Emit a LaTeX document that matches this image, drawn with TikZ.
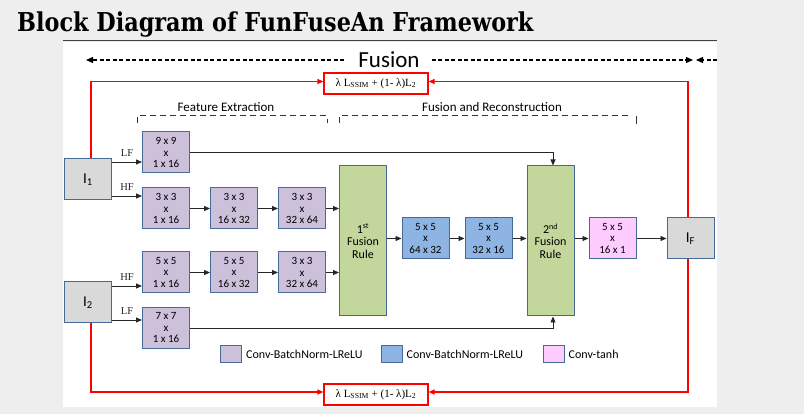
\documentclass[tikz,border=0pt]{standalone}
\usepackage{fontspec}
\usepackage{tikz}
\usetikzlibrary{arrows.meta, positioning, calc}
\newfontfamily\carlito{Carlito}
\newfontfamily\timesf{Liberation Serif}
\newfontfamily\titlefont[FakeStretch=0.86]{DejaVu Serif}
\definecolor{ffpurple}{RGB}{204,192,218}
\definecolor{ffblue}{RGB}{141,180,226}
\definecolor{ffgreen}{RGB}{195,214,155}
\definecolor{ffpink}{RGB}{255,204,255}
\definecolor{ffgray}{RGB}{217,217,217}
\definecolor{ffedge}{RGB}{70,105,150}
\definecolor{ffred}{RGB}{255,0,0}
\definecolor{ffback}{RGB}{238,238,238}
\tikzset{
  %% ---- boxes ----
  convbox/.style  = {rectangle, draw=ffedge, line width=1pt, fill=#1,
                     minimum width=47pt, minimum height=41pt, inner sep=0pt,
                     align=center, font=\carlito\fontsize{11}{11.5}\selectfont},
  convbox/.default = ffpurple,
  rulebox/.style  = {rectangle, draw=ffedge, line width=1pt, fill=ffgreen,
                     minimum width=47pt, minimum height=150pt, inner sep=0pt,
                     align=center, font=\carlito\fontsize{12}{12.5}\selectfont},
  imgbox/.style   = {rectangle, draw=ffedge, line width=1pt, fill=ffgray,
                     minimum width=47pt, minimum height=41pt,
                     font=\carlito\fontsize{15}{15}\selectfont},
  lossbox/.style  = {rectangle, draw=ffred, line width=1.2pt, fill=white,
                     minimum width=104pt, minimum height=21pt, inner sep=0pt,
                     font=\timesf\fontsize{11}{12}\selectfont},
  swatch/.style   = {rectangle, draw=ffedge, line width=1pt, fill=#1,
                     minimum width=21pt, minimum height=17pt, inner sep=0pt},
  legtext/.style  = {font=\carlito\fontsize{12}{12}\selectfont, inner sep=2pt},
  lbl/.style      = {above=5pt, inner sep=0pt, font=\timesf\fontsize{10.5}{11}\selectfont},
  %% ---- arrows ----
  arrow/.style    = {-{Triangle[length=6pt,width=5pt]}, line width=0.8pt, color=black!85},
  redarrow/.style = {-{Triangle[length=6pt,width=5pt]}, line width=1.2pt, color=ffred},
  fusearrow/.style= {-{Triangle[length=7pt,width=6pt]}, line width=1.2pt,
                     dash pattern=on 4pt off 2.5pt},
  bracket/.style  = {line width=1pt, color=black!80, dash pattern=on 6pt off 4pt},
}
\begin{document}
\begin{tikzpicture}[x=1pt, y=-1pt]
\fill[ffback] (0,0) rectangle (804,414);
\fill[white] (63,42) rectangle (717,407);
\draw[black!75, line width=1pt] (63,41) -- (717,41);
\node[anchor=base west, inner sep=0pt,
      font=\titlefont\bfseries\fontsize{26}{26}\selectfont] (title) at (17,32)
      {Block Diagram of FunFuseAn Framework};

%% fusion span
\node[inner sep=0pt, font=\carlito\fontsize{23}{23}\selectfont] (fus) at (389,60) {Fusion};
\coordinate (fusL) at (86,60);
\coordinate (fusR) at (693,60);
\coordinate (nxtR) at (717,60);
\coordinate (nxtL) at (696,60);
\draw[fusearrow] ([xshift=-14pt]fus.west) -- (fusL);
\draw[fusearrow] ([xshift=12pt]fus.east) -- (fusR);
\draw[fusearrow] (nxtR) -- (nxtL);

%% loss
\node[lossbox] (losst) at (376,83.5) {λ L\textsubscript{SSIM} + (1- λ)L\textsubscript{2}};
\node[lossbox] (lossb) at (376,394.5) {λ L\textsubscript{SSIM} + (1- λ)L\textsubscript{2}};

%% stage brackets
\node[font=\carlito\fontsize{13}{13}\selectfont] (fe) at (226,107) {Feature Extraction};
\node[font=\carlito\fontsize{13}{13}\selectfont] (fr) at (492,107) {Fusion and Reconstruction};
\draw[bracket] (137,123) -- (137,116) -- (327,116) -- (327,123);
\draw[bracket] (339,123) -- (339,116) -- (632,116);
\draw[line width=1pt, black!80] (636,116) -- (636,124);

%% inputs and feature extraction
\node[imgbox] (i1) at (88,179.5) {I\textsubscript{1}};
\node[imgbox] (i2) at (88,302.5) {I\textsubscript{2}};
\node[convbox] (lf1) at (166,152.5) {9 x 9\\x\\1 x 16};
\node[convbox] (hf1a) at (166,208.5) {3 x 3\\x\\1 x 16};
\node[convbox, right=20pt of hf1a] (hf1b) {3 x 3\\x\\16 x 32};
\node[convbox, right=20pt of hf1b] (hf1c) {3 x 3\\x\\32 x 64};
\node[convbox] (hf2a) at (166,272.5) {5 x 5\\x\\1 x 16};
\node[convbox, right=20pt of hf2a] (hf2b) {5 x 5\\x\\16 x 32};
\node[convbox, right=20pt of hf2b] (hf2c) {3 x 3\\x\\32 x 64};
\node[convbox] (lf2) at (166,328) {7 x 7\\x\\1 x 16};

%% fusion and reconstruction
\node[rulebox] (fr1) at (363,241) {1\textsuperscript{st}\\Fusion\\Rule};
\node[convbox=ffblue] (bl1) at (425.5,238.5) {5 x 5\\x\\64 x 32};
\node[convbox=ffblue, right=15pt of bl1] (bl2) {5 x 5\\x\\32 x 16};
\node[rulebox] (fr2) at (550.5,241) {2\textsuperscript{nd}\\Fusion\\Rule};
\node[convbox=ffpink] (tanh) at (612.5,238.5) {5 x 5\\x\\16 x 1};
\node[imgbox] (iF) at (690.5,238.5) {I\textsubscript{F}};

%% legend
\node[swatch=ffpurple] (sw1) at (231,354) {};
\node[legtext, right=2pt of sw1] (lg1) {Conv-BatchNorm-LReLU};
\node[swatch=ffblue] (sw2) at (391.5,354) {};
\node[legtext, right=2pt of sw2] (lg2) {Conv-BatchNorm-LReLU};
\node[swatch=ffpink] (sw3) at (553.5,354) {};
\node[legtext, right=2pt of sw3] (lg3) {Conv-tanh};

%% connectors
\coordinate (lf1in) at ([yshift=-9.5pt]lf1.west);
\coordinate (hf1in) at ([yshift=12.5pt]hf1a.west);
\coordinate (hf2in) at ([yshift=-13.5pt]hf2a.west);
\coordinate (lf2in) at ([yshift=8pt]lf2.west);
\draw[arrow] (i1.east |- lf1in) -- node[lbl] (lflab1) {LF} (lf1in);
\draw[arrow] (i1.east |- hf1in) -- node[lbl] (hflab1) {HF} (hf1in);
\draw[arrow] (i2.east |- hf2in) -- node[lbl] (hflab2) {HF} (hf2in);
\draw[arrow] (i2.east |- lf2in) -- node[lbl] (lflab2) {LF} (lf2in);
\draw[arrow] (hf1a) -- (hf1b);
\draw[arrow] (hf1b) -- (hf1c);
\draw[arrow] (hf1c) -- (hf1c -| fr1.west);
\draw[arrow] (hf2a) -- (hf2b);
\draw[arrow] (hf2b) -- (hf2c);
\draw[arrow] (hf2c) -- (hf2c -| fr1.west);
\draw[arrow] (lf1) -| ([xshift=2.5pt]fr2.north);
\draw[arrow] (lf2) -| ([xshift=2.5pt]fr2.south);
\draw[arrow] (fr1.east |- bl1) -- (bl1);
\draw[arrow] (bl1) -- (bl2);
\draw[arrow] (bl2) -- (bl2 -| fr2.west);
\draw[arrow] (fr2.east |- tanh) -- (tanh);
\draw[arrow] (tanh) -- (iF);
\draw[redarrow] ([xshift=3pt]i1.north) |- ([yshift=2pt]losst.west);
\draw[redarrow] ([xshift=-2.5pt]iF.north) |- ([yshift=2pt]losst.east);
\draw[redarrow] ([xshift=3pt]i2.south) |- ([yshift=2.5pt]lossb.west);
\draw[redarrow] ([xshift=-2.5pt]iF.south) |- ([yshift=2.5pt]lossb.east);
\end{tikzpicture}
\end{document}
